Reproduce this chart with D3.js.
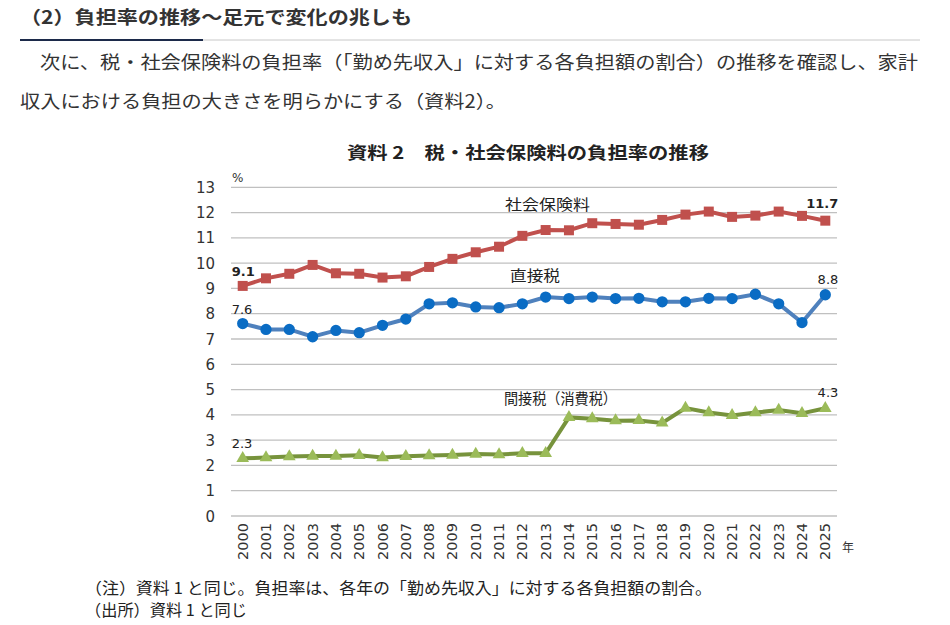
<!DOCTYPE html>
<html>
<head>
<meta charset="utf-8">
<script src="https://cdn.jsdelivr.net/npm/d3@7"></script>
<style>
  body { margin: 0; background: #fff; }
  text { font-family: "Noto Sans CJK JP", "Noto Sans", sans-serif; }
  .num { font-family: "DejaVu Sans", Verdana, sans-serif; }
</style>
</head>
<body>
<svg id="chart" width="950" height="625"></svg>
<script>
// years on the x axis
var years = d3.range(2000, 2026).map(String)

// 社会保険料 (social insurance premiums), % of income
var social = [9.1, 9.4, 9.58, 9.93, 9.6, 9.58, 9.43, 9.48, 9.85, 10.17, 10.43, 10.65, 11.08,
              11.31, 11.3, 11.58, 11.55, 11.52, 11.71, 11.92, 12.04, 11.83, 11.88, 12.04, 11.87, 11.68]

// 直接税 (direct taxes)
var direct = [7.61, 7.38, 7.38, 7.09, 7.34, 7.25, 7.54, 7.79, 8.39, 8.43, 8.27, 8.24, 8.39,
              8.66, 8.6, 8.66, 8.6, 8.61, 8.47, 8.47, 8.61, 8.6, 8.77, 8.39, 7.65, 8.75]

// 間接税(消費税) (indirect taxes / consumption tax)
var indirect = [2.28, 2.31, 2.35, 2.37, 2.37, 2.4, 2.31, 2.36, 2.39, 2.41, 2.45, 2.43, 2.48,
                2.48, 3.9, 3.85, 3.77, 3.78, 3.68, 4.27, 4.09, 3.98, 4.09, 4.19, 4.06, 4.26]

var yTicks = d3.range(0, 14)

var svg = d3.select('#chart')

// ---- page text above the chart ----
svg.append('text')
    .attr('x', 20)
    .attr('y', 24)
    .attr('font-size', 18)
    .attr('font-weight', 'bold')
    .attr('fill', '#333')
    .attr('textLength', 392)
    .attr('lengthAdjust', 'spacingAndGlyphs')
    .text('（2）負担率の推移〜足元で変化の兆しも')

svg.append('line')
    .attr('x1', 20).attr('x2', 920).attr('y1', 40).attr('y2', 40)
    .style('stroke', '#c8c8c8').style('stroke-width', 1)
svg.append('line')
    .attr('x1', 20).attr('x2', 203).attr('y1', 40).attr('y2', 40)
    .style('stroke', '#1c2a4a').style('stroke-width', 2)

svg.append('text')
    .attr('x', 40)
    .attr('y', 69)
    .attr('font-size', 18)
    .attr('fill', '#333')
    .attr('textLength', 878)
    .attr('lengthAdjust', 'spacingAndGlyphs')
    .text('次に、税・社会保険料の負担率（「勤め先収入」に対する各負担額の割合）の推移を確認し、家計')

svg.append('text')
    .attr('x', 20)
    .attr('y', 108)
    .attr('font-size', 18)
    .attr('fill', '#333')
    .attr('textLength', 486)
    .attr('lengthAdjust', 'spacingAndGlyphs')
    .text('収入における負担の大きさを明らかにする（資料2）。')

// ---- chart ----
svg.append('text')
    .attr('x', 528)
    .attr('y', 159)
    .attr('text-anchor', 'middle')
    .attr('font-size', 17)
    .attr('font-weight', 'bold')
    .attr('fill', '#222')
    .attr('textLength', 362)
    .attr('lengthAdjust', 'spacingAndGlyphs')
    .text('資料 2　税・社会保険料の負担率の推移')

var x = d3.scalePoint()
    .domain(years)
    .range([242.7, 825.3])

var y = d3.scaleLinear()
    .domain([0, 13])
    .range([516, 187.3])

var gridLeft = 231, gridRight = 837

// gridlines
svg.append('g')
    .selectAll('line')
    .data(yTicks)
    .join('line')
    .attr('x1', gridLeft)
    .attr('x2', gridRight)
    .attr('y1', function(d) { return y(d); })
    .attr('y2', function(d) { return y(d); })
    .style('stroke', '#c0c0c0')
    .style('stroke-width', 1.3)

// y tick labels
svg.append('g')
    .selectAll('text')
    .data(yTicks)
    .join('text')
    .attr('class', 'num')
    .attr('x', 215)
    .attr('y', function(d) { return y(d) + 5.5; })
    .attr('text-anchor', 'end')
    .attr('font-size', 15)
    .attr('fill', '#333')
    .text(function(d) { return d; })

svg.append('text')
    .attr('class', 'num')
    .attr('x', 232)
    .attr('y', 182)
    .attr('font-size', 12)
    .attr('fill', '#333')
    .text('%')

// x tick labels, rotated
svg.append('g')
    .selectAll('text')
    .data(years)
    .join('text')
    .attr('class', 'num')
    .attr('transform', function(d) { return 'translate(' + (x(d) + 5) + ',523) rotate(-90)'; })
    .attr('text-anchor', 'end')
    .attr('font-size', 14.5)
    .attr('fill', '#333')
    .text(function(d) { return d; })

svg.append('text')
    .attr('x', 842)
    .attr('y', 552)
    .attr('font-size', 12)
    .attr('fill', '#333')
    .text('年')

// ---- series ----
var series = [
  { name: '社会保険料', values: social, line: '#c0504d', mark: '#c0504d', shape: 'square' },
  { name: '直接税', values: direct, line: '#4f81bd', mark: '#0a6cc4', shape: 'circle' },
  { name: '間接税(消費税)', values: indirect, line: '#77933c', mark: '#9bbb59', shape: 'triangle' }
]

var line = d3.line()
    .x(function(d, i) { return x(years[i]); })
    .y(function(d) { return y(d); })

series.forEach(function(s) {
  svg.append('path')
      .attr('d', line(s.values))
      .style('fill', 'none')
      .style('stroke', s.line)
      .style('stroke-width', 4)

  var sym = s.shape === 'square' ? d3.symbolSquare
          : s.shape === 'circle' ? d3.symbolCircle : d3.symbolTriangle
  var size = s.shape === 'square' ? 100 : s.shape === 'circle' ? 100 : 70

  svg.append('g')
      .selectAll('path')
      .data(s.values)
      .join('path')
      .attr('d', d3.symbol().type(sym).size(size))
      .attr('transform', function(d, i) {
        return 'translate(' + x(years[i]) + ',' + y(d) + ')';
      })
      .style('fill', s.mark)
})

// series name labels
var nameLabels = [
  { text: '社会保険料', x: 505, y: 210, w: 85 },
  { text: '直接税', x: 510, y: 281, w: 50 },
  { text: '間接税（消費税）', x: 504, y: 404, w: 113 }
]
svg.append('g')
    .selectAll('text')
    .data(nameLabels)
    .join('text')
    .attr('x', function(d) { return d.x; })
    .attr('y', function(d) { return d.y; })
    .attr('font-size', 15)
    .attr('fill', '#222')
    .attr('textLength', function(d) { return d.w; })
    .attr('lengthAdjust', 'spacingAndGlyphs')
    .text(function(d) { return d.text; })

// first / last value labels
var last = years.length - 1
var valueLabels = [
  { v: social[0], shown: '9.1', i: 0, dy: -10, bold: true },
  { v: social[last], shown: '11.7', i: last, dy: -13, bold: true },
  { v: direct[0], shown: '7.6', i: 0, dy: -10, bold: false },
  { v: direct[last], shown: '8.8', i: last, dy: -11, bold: false },
  { v: indirect[0], shown: '2.3', i: 0, dy: -10, bold: false },
  { v: indirect[last], shown: '4.3', i: last, dy: -11, bold: false }
]
svg.append('g')
    .selectAll('text')
    .data(valueLabels)
    .join('text')
    .attr('class', 'num')
    .attr('x', function(d) { return d.i === 0 ? x(years[d.i]) - 11 : x(years[d.i]) + 13; })
    .attr('y', function(d) { return y(d.v) + d.dy; })
    .attr('text-anchor', function(d) { return d.i === 0 ? 'start' : 'end'; })
    .attr('font-size', 13)
    .attr('font-weight', function(d) { return d.bold ? 'bold' : 'normal'; })
    .attr('fill', '#222')
    .text(function(d) { return d.shown; })

// ---- notes ----
svg.append('text')
    .attr('x', 85)
    .attr('y', 594)
    .attr('font-size', 16)
    .attr('fill', '#222')
    .attr('textLength', 627)
    .attr('lengthAdjust', 'spacingAndGlyphs')
    .text('（注）資料 1 と同じ。負担率は、各年の「勤め先収入」に対する各負担額の割合。')

svg.append('text')
    .attr('x', 85)
    .attr('y', 616)
    .attr('font-size', 16)
    .attr('fill', '#222')
    .attr('textLength', 162)
    .attr('lengthAdjust', 'spacingAndGlyphs')
    .text('（出所）資料 1 と同じ')
</script>
</body>
</html>
